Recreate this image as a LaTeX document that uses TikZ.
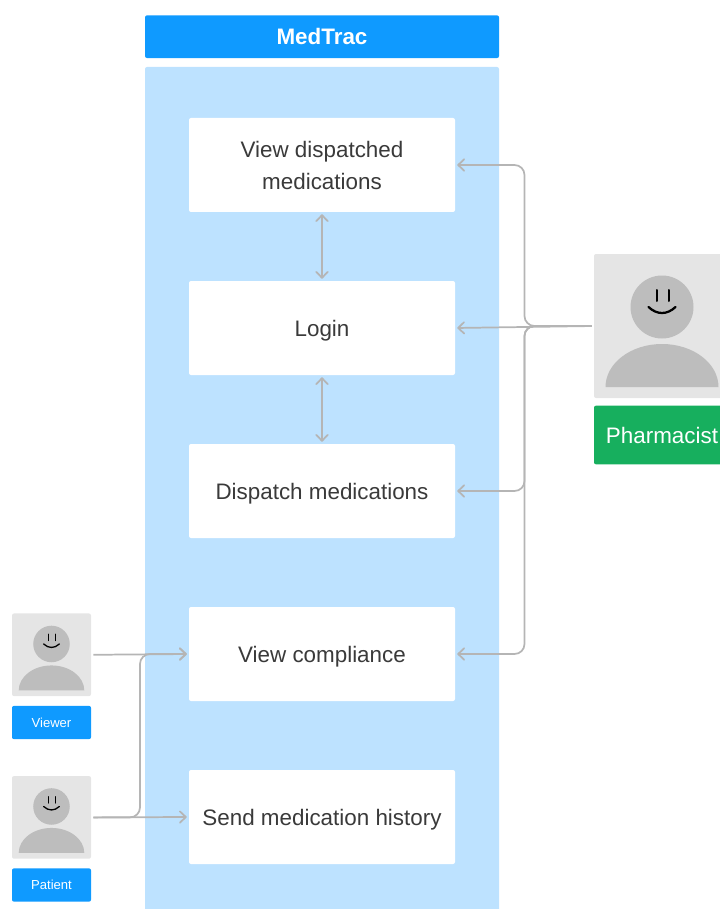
\documentclass[tikz,border=0pt]{standalone}
\usepackage{fontspec}
\setmainfont{Liberation Sans}
\usetikzlibrary{arrows.meta}

\definecolor{panelblue}{HTML}{BDE2FF}
\definecolor{headblue}{HTML}{0F9AFF}
\definecolor{labelgreen}{HTML}{17AF5E}
\definecolor{avatargrey}{HTML}{E5E5E5}
\definecolor{facegrey}{HTML}{BDBDBD}
\definecolor{linegrey}{HTML}{B5B5B5}
\definecolor{textgrey}{HTML}{3A3A3A}

\tikzset{
  usecase/.style={fill=white,rounded corners=1.5pt,minimum width=199.5pt,minimum height=70.5pt,
    inner sep=0pt,align=center,text=textgrey,font=\fontsize{16.8}{24}\selectfont},
  oneline/.style={usecase,text height=15pt,text depth=3pt},
  bluebar/.style={fill=headblue,rounded corners=1.5pt,inner sep=0pt,text=white},
  avatarbox/.style={fill=avatargrey,rounded corners=1.5pt,inner sep=0pt},
  flow/.style={draw=linegrey,line width=1.3pt,rounded corners=7.5pt,shorten >=1.5pt,shorten <=1.5pt,
    -{Straight Barb[length=4.5pt,width=8.5pt,round]}},
  flowboth/.style={flow,{Straight Barb[length=4.5pt,width=8.5pt,round]}-{Straight Barb[length=4.5pt,width=8.5pt,round]}}
}

% face and shoulders, centred on an avatar box
\newcommand{\avatarface}[3]{
  \begin{scope}[shift={(#1,#2)},scale=#3]
    \fill[facegrey] (0,-19) circle[radius=31.5];
    \fill[facegrey] (-56.5,61) arc[start angle=180,end angle=360,x radius=56.5,y radius=43] -- cycle;
    \draw[black,line width=#3*1.5pt,line cap=round] (-5.5,-36) -- (-5.5,-25);
    \draw[black,line width=#3*1.5pt,line cap=round] (6.5,-36) -- (6.5,-25);
    \draw[black,line width=#3*1.7pt,line cap=round] (-13.5,-19) .. controls (-5,-11) and (5,-11) .. (13.5,-19);
  \end{scope}
}

\begin{document}
\begin{tikzpicture}[x=.75pt,y=-.75pt]
  \path[use as bounding box] (0,0) rectangle (720,909);
  \clip (0,0) rectangle (720,909);

  \fill[panelblue,rounded corners=1.5pt] (145,67) rectangle (499,930);
  \node[bluebar,minimum width=265.5pt,minimum height=32pt,font=\fontsize{16.8}{20}\selectfont\bfseries] (medtrac) at (322,36.7) {MedTrac};

  \node[usecase] (viewdispatched) at (322,165) {View dispatched\\medications};
  \node[oneline] (login) at (322,328) {Login};
  \node[oneline] (dispatch) at (322,491) {Dispatch medications};
  \node[oneline] (compliance) at (322,654) {View compliance};
  \node[oneline] (history) at (322,817) {Send medication history};

  % actors
  \node[avatarbox,minimum width=102pt,minimum height=108pt] (pharmacist) at (662,326) {};
  \node[bluebar,fill=labelgreen,minimum width=102pt,minimum height=44pt,font=\fontsize{16.8}{20}\selectfont] (pharmacistlabel) at (662,435) {Pharmacist};
  \node[avatarbox,minimum width=59.25pt,minimum height=62pt] (viewer) at (51.5,654.8) {};
  \node[bluebar,minimum width=59.25pt,minimum height=25pt,font=\fontsize{9.8}{12}\selectfont] (viewerlabel) at (51.5,722.5) {Viewer};
  \node[avatarbox,minimum width=59.25pt,minimum height=62pt] (patient) at (51.5,817.4) {};
  \node[bluebar,minimum width=59.25pt,minimum height=25pt,font=\fontsize{9.8}{12}\selectfont] (patientlabel) at (51.5,885) {Patient};

  \avatarface{662}{326}{1}
  \avatarface{51.5}{655}{.58}
  \avatarface{51.5}{817.5}{.58}

  \coordinate (pharmabus) at (524.5,326);
  \coordinate (patientbus) at (140,817.4);

  \foreach \from/\to in {viewdispatched/login,login/dispatch}
    \draw[flowboth] (\from.south) -- (\to.north);

  \foreach \to in {viewdispatched,dispatch,compliance}
    \draw[flow] (pharmacist.west) -- (pharmabus) |- (\to.east);
  \draw[flow] (pharmacist.west) -- (login.east);

  \draw[flow] (viewer.east) -- (compliance.west);
  \draw[flow] (patient.east) -- (history.west);
  \draw[flow] (patient.east) -- (patientbus) |- (compliance.west);
\end{tikzpicture}
\end{document}
